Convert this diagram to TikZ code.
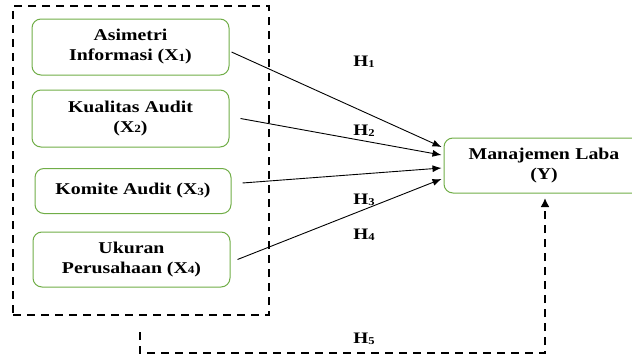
\documentclass[tikz,border=0pt]{standalone}
\usepackage{fontspec}
\setmainfont{Liberation Serif}[FakeStretch=1.2]
\usetikzlibrary{arrows.meta,calc}
\definecolor{boxgreen}{RGB}{112,173,71}
\newcommand\lsub[1]{\raisebox{-0.5pt}{\fontsize{11}{11}\selectfont #1}}
\newcommand\hsub[1]{\raisebox{-0.5pt}{\fontsize{10.5}{10.5}\selectfont #1}}
\begin{document}
\begin{tikzpicture}[x=1pt,y=-1pt,
  vbox/.style={draw=boxgreen, line width=1pt, rounded corners=9pt, align=center,
    font=\fontsize{16.5}{20}\selectfont\bfseries, inner sep=0pt},
  link/.style={line width=0.9pt, -{Latex[length=9pt,width=7pt]}},
  dbox/.style={draw, line width=2.6pt, dash pattern=on 8pt off 6pt},
  dlink/.style={line width=2.6pt, dash pattern=on 8pt off 6pt, -{Latex[length=9pt,width=9pt]}},
  hlab/.style={font=\fontsize{16}{16}\selectfont\bfseries, inner sep=0pt}]
\useasboundingbox (0,0) rectangle (632,356);
\node[dbox, minimum width=256pt, minimum height=309pt, inner sep=0pt] (grp) at (141,160.5) {};
\node[vbox, minimum width=197pt, minimum height=56pt] (x1) at (130.5,47) {Asimetri\\Informasi (X\lsub{1})};
\node[vbox, minimum width=197pt, minimum height=57pt] (x2) at (130.5,118.5) {Kualitas Audit\\(X\lsub{2})};
\node[vbox, minimum width=196pt, minimum height=45pt] (x3) at (133,191) {\raisebox{3pt}{Komite Audit (X\lsub{3})}};
\node[vbox, minimum width=197pt, minimum height=55pt] (x4) at (131.5,259.5) {Ukuran\\Perusahaan (X\lsub{4})};
\node[vbox, minimum width=200pt, minimum height=55pt, text width=190pt, xshift=-5pt] (Y) at (549,165.5) {\hspace*{0pt}Manajemen Laba\\(Y)};
\path (Y.west) ++(0,0) coordinate (yw);
\draw[link] ($(x1.east)+(2,5)$) -- ($(yw)+(-2,-18.5)$);
\draw[link] ($(x2.east)+(11,0)$) -- ($(yw)+(-2,-10.5)$);
\draw[link] ($(x3.east)+(11,-8)$) -- ($(yw)+(-2,2.5)$);
\draw[link] ($(x4.east)+(7,0)$) -- ($(yw)+(-2,13.5)$);
\coordinate (h5s) at (140,332);
\coordinate (h5c) at (545,353);
\coordinate (h5e) at (545,198);
\draw[dlink] (h5s) |- (h5c) -- (h5e);
\node[hlab] (h1) at (364,62) {H\hsub{1}};
\node[hlab] (h2) at (364,131) {H\hsub{2}};
\node[hlab] (h3) at (364,200) {H\hsub{3}};
\node[hlab] (h4) at (364,235) {H\hsub{4}};
\node[hlab] (h5) at (364,339) {H\hsub{5}};
\end{tikzpicture}
\end{document}
